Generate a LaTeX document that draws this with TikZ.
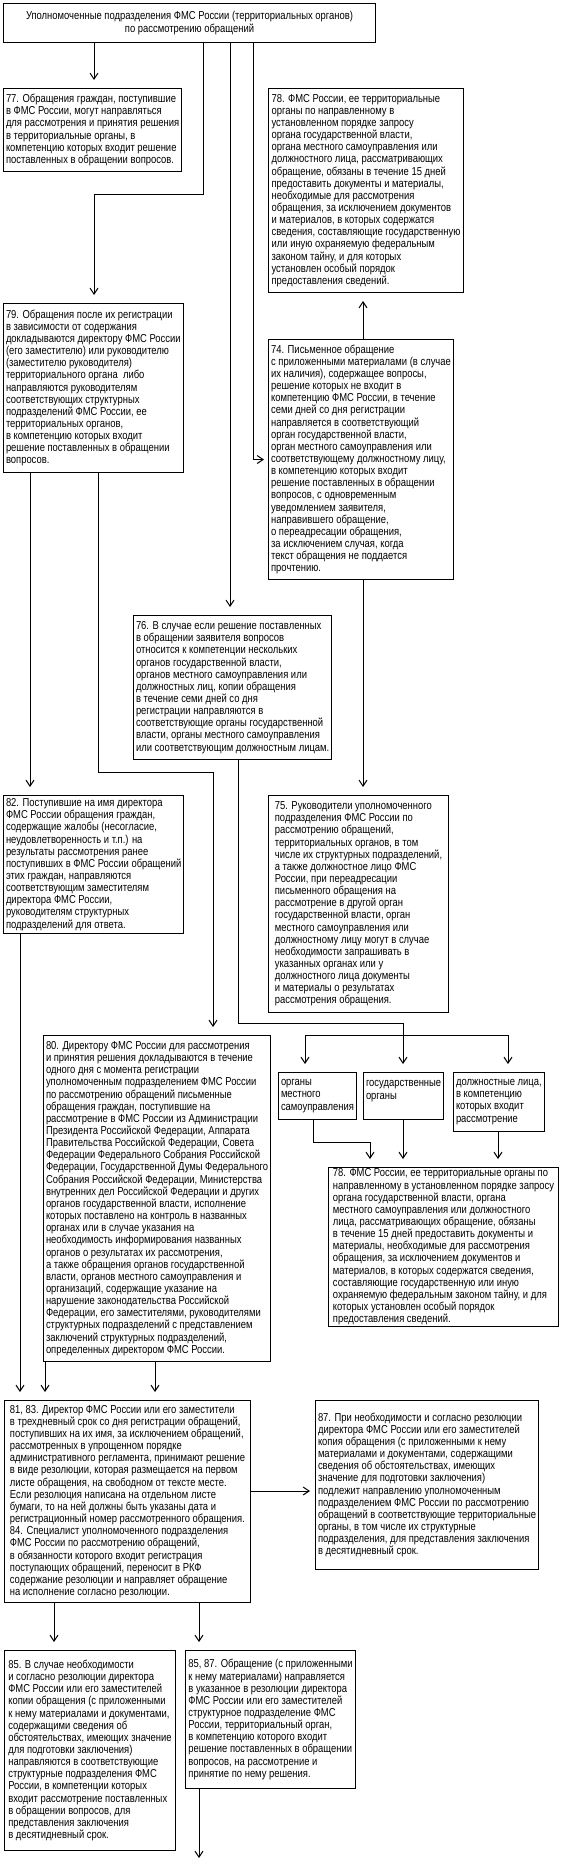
\documentclass[tikz,border=0pt]{standalone}
\usepackage{fontspec}
\setmainfont{Liberation Sans}[FakeStretch=0.82]
\usetikzlibrary{arrows.meta}
\tikzset{
  box/.style={draw, line width=1pt, anchor=north west, inner xsep=2.5pt, inner ysep=0pt,
    align=left, font=\fontsize{11.5pt}{12.15pt}\selectfont},
  link/.style={line width=1pt},
  arr/.style={line width=1pt, -{Straight Barb[length=6pt,width=8pt]}, shorten >=8pt},
}
\begin{document}
\begin{tikzpicture}[x=1pt,y=-1pt]
\useasboundingbox (0,0) rectangle (565,1862);

% x positions of connectors
\coordinate (x20) at (20,0);
\coordinate (x30) at (30,0);
\coordinate (x45) at (45,0);
\coordinate (x54) at (54,0);
\coordinate (x94) at (94,0);
\coordinate (x98) at (98,0);
\coordinate (x155) at (155,0);
\coordinate (x199) at (199,0);
\coordinate (x213) at (213,0);
\coordinate (x230) at (230,0);
\coordinate (x238) at (238,0);
\coordinate (x253) at (253,0);
\coordinate (x305) at (305,0);
\coordinate (x363) at (363,0);
\coordinate (x370) at (370,0);
\coordinate (x403) at (403,0);
\coordinate (x498) at (498,0);
\coordinate (x508) at (508,0);
\coordinate (y1491) at (0,1491);

\node[box, align=center, minimum width=372pt, minimum height=39pt] (T) at (3,3)
{Уполномоченные подразделения ФМС России (территориальных органов)\\по рассмотрению обращений};

\node[box, minimum width=171pt, minimum height=83pt] (b77) at (3,88)
{77. Обращения граждан, поступившие\\
в ФМС России, могут направляться\\
для рассмотрения и принятия решения\\
в территориальные органы, в\\
компетенцию которых входит решение\\
поставленных в обращении вопросов.};

\node[box, minimum width=195pt, minimum height=204pt] (b78a) at (268,88)
{78. ФМС России, ее территориальные\\
органы по направленному в\\
установленном порядке запросу\\
органа государственной власти,\\
органа местного самоуправления или\\
должностного лица, рассматривающих\\
обращение, обязаны в течение 15 дней\\
предоставить документы и материалы,\\
необходимые для рассмотрения\\
обращения, за исключением документов\\
и материалов, в которых содержатся\\
сведения, составляющие государственную\\
или иную охраняемую федеральным\\
законом тайну, и для которых\\
установлен особый порядок\\
предоставления сведений.};

\node[box, minimum width=175pt, minimum height=169pt] (b79) at (3,303)
{79. Обращения после их регистрации\\
в зависимости от содержания\\
докладываются директору ФМС России\\
(его заместителю) или руководителю\\
(заместителю руководителя)\\
территориального органа \ либо\\
направляются руководителям\\
соответствующих структурных\\
подразделений ФМС России, ее\\
территориальных органов,\\
в компетенцию которых входит\\
решение поставленных в обращении\\
вопросов.};

\node[box, minimum width=185pt, minimum height=240pt] (b74) at (268,339)
{74. Письменное обращение\\
с приложенными материалами (в случае\\
их наличия), содержащее вопросы,\\
решение которых не входит в\\
компетенцию ФМС России, в течение\\
семи дней со дня регистрации\\
направляется в соответствующий\\
орган государственной власти,\\
орган местного самоуправления или\\
соответствующему должностному лицу,\\
в компетенцию которых входит\\
решение поставленных в обращении\\
вопросов, с одновременным\\
уведомлением заявителя,\\
направившего обращение,\\
о переадресации обращения,\\
за исключением случая, когда\\
текст обращения не поддается\\
прочтению.};

\node[box, minimum width=195pt, minimum height=144pt] (b76) at (133,615)
{76. В случае если решение поставленных\\
в обращении заявителя вопросов\\
относится к компетенции нескольких\\
органов государственной власти,\\
органов местного самоуправления или\\
должностных лиц, копии обращения\\
в течение семи дней со дня\\
регистрации направляются в\\
соответствующие органы государственной\\
власти, органы местного самоуправления\\
или соответствующим должностным лицам.};

\node[box, minimum width=175pt, minimum height=138pt] (b82) at (3,795)
{82. Поступившие на имя директора\\
ФМС России обращения граждан,\\
содержащие жалобы (несогласие,\\
неудовлетворенность и т.п.) на\\
результаты рассмотрения ранее\\
поступивших в ФМС России обращений\\
этих граждан, направляются\\
соответствующим заместителям\\
директора ФМС России,\\
руководителям структурных\\
подразделений для ответа.};

\node[box, minimum width=180pt, minimum height=217pt] (b75) at (268,795)
{75. Руководители уполномоченного\\
подразделения ФМС России по\\
рассмотрению обращений,\\
территориальных органов, в том\\
числе их структурных подразделений,\\
а также должностное лицо ФМС\\
России, при переадресации\\
письменного обращения на\\
рассмотрение в другой орган\\
государственной власти, орган\\
местного самоуправления или\\
должностному лицу могут в случае\\
необходимости запрашивать в\\
указанных органах или у\\
должностного лица документы\\
и материалы о результатах\\
рассмотрения обращения.};

\node[box, minimum width=225pt, minimum height=326pt] (b80) at (43,1035)
{80. Директору ФМС России для рассмотрения\\
и принятия решения докладываются в течение\\
одного дня с момента регистрации\\
уполномоченным подразделением ФМС России\\
по рассмотрению обращений письменные\\
обращения граждан, поступившие на\\
рассмотрение в ФМС России из Администрации\\
Президента Российской Федерации, Аппарата\\
Правительства Российской Федерации, Совета\\
Федерации Федерального Собрания Российской\\
Федерации, Государственной Думы Федерального\\
Собрания Российской Федерации, Министерства\\
внутренних дел Российской Федерации и других\\
органов государственной власти, исполнение\\
которых поставлено на контроль в названных\\
органах или в случае указания на\\
необходимость информирования названных\\
органов о результатах их рассмотрения,\\
а также обращения органов государственной\\
власти, органов местного самоуправления и\\
организаций, содержащие указание на\\
нарушение законодательства Российской\\
Федерации, его заместителями, руководителями\\
структурных подразделений с представлением\\
заключений структурных подразделений,\\
определенных директором ФМС России.};

\node[box, minimum width=75pt, minimum height=47pt] (s1) at (278,1072)
{органы\\местного\\самоуправления};
\node[box, minimum width=79pt, minimum height=47pt] (s2) at (363,1072)
{государственные\\органы\\~};
\node[box, minimum width=90pt, minimum height=59pt] (s3) at (453,1072)
{должностные лица,\\в компетенцию\\которых входит\\рассмотрение};

\node[box, minimum width=230pt, minimum height=159pt] (b78b) at (328,1167)
{78. ФМС России, ее территориальные органы по\\
направленному в установленном порядке запросу\\
органа государственной власти, органа\\
местного самоуправления или должностного\\
лица, рассматривающих обращение, обязаны\\
в течение 15 дней предоставить документы и\\
материалы, необходимые для рассмотрения\\
обращения, за исключением документов и\\
материалов, в которых содержатся сведения,\\
составляющие государственную или иную\\
охраняемую федеральным законом тайну, и для\\
которых установлен особый порядок\\
предоставления сведений.};

\node[box, minimum width=246pt, minimum height=202pt] (b81) at (4,1400)
{81, 83. Директор ФМС России или его заместители\\
в трехдневный срок со дня регистрации обращений,\\
поступивших на их имя, за исключением обращений,\\
рассмотренных в упрощенном порядке\\
административного регламента, принимают решение\\
в виде резолюции, которая размещается на первом\\
листе обращения, на свободном от тексте месте.\\
Если резолюция написана на отдельном листе\\
бумаги, то на ней должны быть указаны дата и\\
регистрационный номер рассмотренного обращения.\\
84. Специалист уполномоченного подразделения\\
ФМС России по рассмотрению обращений,\\
в обязанности которого входит регистрация\\
поступающих обращений, переносит в РКФ\\
содержание резолюции и направляет обращение\\
на исполнение согласно резолюции.};

\node[box, minimum width=221pt, minimum height=169pt] (b87) at (315,1400)
{87. При необходимости и согласно резолюции\\
директора ФМС России или его заместителей\\
копия обращения (с приложенными к нему\\
материалами и документами, содержащими\\
сведения об обстоятельствах, имеющих\\
значение для подготовки заключения)\\
подлежит направлению уполномоченным\\
подразделением ФМС России по рассмотрению\\
обращений в соответствующие территориальные\\
органы, в том числе их структурные\\
подразделения, для представления заключения\\
в десятидневный срок.};

\node[box, minimum width=171pt, minimum height=200pt] (b85) at (4,1650)
{85. В случае необходимости\\
и согласно резолюции директора\\
ФМС России или его заместителей\\
копии обращения (с приложенными\\
к нему материалами и документами,\\
содержащими сведения об\\
обстоятельствах, имеющих значение\\
для подготовки заключения)\\
направляются в соответствующие\\
структурные подразделения ФМС\\
России, в компетенции которых\\
входит рассмотрение поставленных\\
в обращении вопросов, для\\
представления заключения\\
в десятидневный срок.};

\node[box, minimum width=170pt, minimum height=138pt] (b8587) at (185,1650)
{85, 87. Обращение (с приложенными\\
к нему материалами) направляется\\
в указанное в резолюции директора\\
ФМС России или его заместителей\\
структурное подразделение ФМС\\
России, территориальный орган,\\
в компетенцию которого входит\\
решение поставленных в обращении\\
вопросов, на рассмотрение и\\
принятие по нему решения.};

% connector junctions
\coordinate (j1) at (203,195);
\coordinate (j2) at (98,772);
\coordinate (k1) at (403,1023);
\coordinate (k2) at (403,1035);
\coordinate (k3) at (313,1142);
\coordinate (endpt) at (199,1858);

% connectors
\draw[arr] (T.south -| x94) -- (b77.north -| x94);
\draw[arr] (T.south -| j1) -- (j1) -| (b79.north -| x94);
\draw[arr] (T.south -| x230) -- (b76.north -| x230);
\draw[arr, shorten >=4pt] (T.south -| x253) |- (b74.west);
\draw[arr] (b74.north -| x363) -- (b78a.south -| x363);
\draw[arr] (b74.south -| x363) -- (b75.north -| x363);
\draw[arr] (b79.south -| x30) -- (b82.north -| x30);
\draw[arr] (b79.south -| j2) -- (j2) -| (b80.north -| x213);
\draw[arr] (b76.south -| x238) |- (k1) -- (s2.north -| k1);
\draw[arr] (k2) -| (s1.north -| x305);
\draw[arr] (k2) -| (s3.north -| x508);
\draw[arr] (s1.south -| k3) -- (k3) -| (b78b.north -| x370);
\draw[arr] (s2.south -| x403) -- (b78b.north -| x403);
\draw[arr] (s3.south -| x498) -- (b78b.north -| x498);
\draw[arr] (b82.south -| x20) -- (b81.north -| x20);
\draw[arr] (b80.south -| x45) -- (b81.north -| x45);
\draw[arr] (b80.south -| x155) -- (b81.north -| x155);
\draw[arr, shorten >=5pt] (b81.east |- y1491) -- (b87.west |- y1491);
\draw[arr] (b81.south -| x54) -- (b85.north -| x54);
\draw[arr] (b81.south -| x199) -- (b8587.north -| x199);
\draw[arr, shorten >=0pt] (b8587.south -| x199) -- (endpt);
\end{tikzpicture}
\end{document}
